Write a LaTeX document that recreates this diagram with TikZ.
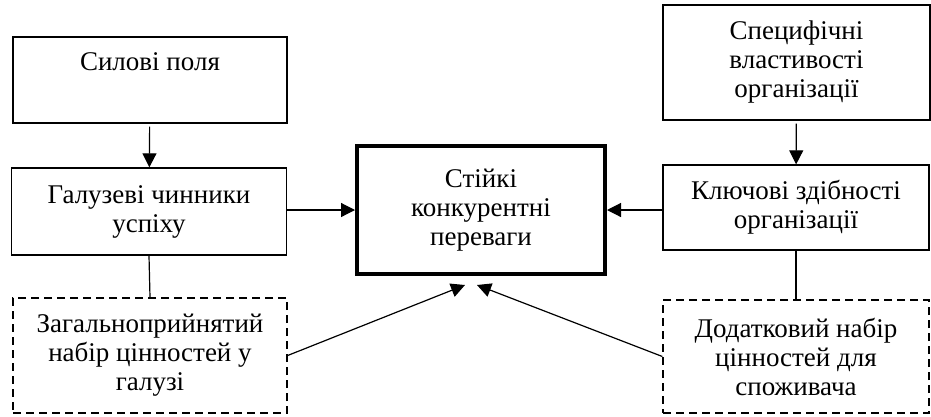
\documentclass[tikz,border=0pt]{standalone}
\usepackage{fontspec}
\setmainfont{Liberation Serif}
\usetikzlibrary{arrows.meta, calc, positioning}

\begin{document}
\begin{tikzpicture}[x=1pt, y=-1pt, >={Triangle[length=14pt, width=14pt]},
  font=\fontsize{27}{29}\selectfont,
  blok/.style={draw, line width=1.3pt, align=center, inner sep=0pt},
  dblok/.style={blok, dash pattern=on 8pt off 5pt},
  golovnyi/.style={blok, line width=4pt}]

  \useasboundingbox (0,0) rectangle (931,416);

  % left column
  \node[blok, minimum width=274pt, minimum height=86pt, inner ysep=8pt,
        text height=25pt, text depth=45pt] (pole) at (150,80) {Силові поля};
  \node[blok, minimum width=275pt, minimum height=87pt] (galuz) at (149,211.5)
        {Галузеві чинники\\ успіху};
  \node[dblok, minimum width=274pt, minimum height=115pt] (zag) at (150,355.5)
        {Загальноприйнятий\\ набір цінностей у\\ галузі};

  % centre
  \node[golovnyi, minimum width=248pt, minimum height=128pt] (stiyki) at (481,210)
        {Стійкі\\ конкурентні\\ переваги};

  % right column
  \node[blok, minimum width=267pt, minimum height=115pt] (spec) at (796.5,62.5)
        {Специфічні\\ властивості\\ організації};
  \node[blok, minimum width=266pt, minimum height=85pt] (klyuch) at (796,207.5)
        {Ключові здібності\\ організації};
  \node[dblok, minimum width=266pt, minimum height=113pt] (dodat) at (796,356.5)
        {Додатковий набір\\ цінностей для\\ споживача};

  \draw[->, line width=1.2pt, shorten <=3pt] (pole) -- (galuz);
  \draw[->, line width=1.2pt, shorten <=3pt] (spec) -- (klyuch);
  \draw[->, line width=1.2pt] (stiyki.west -| galuz.east) -- (stiyki.west);
  \draw[->, line width=1.2pt] (stiyki.east -| klyuch.west) -- (stiyki.east);
  \draw[line width=1.2pt] (galuz.south) -- (zag.north);
  \draw[line width=1.2pt] (klyuch.south) -- (dodat.north);
  \draw[->, line width=1.2pt] (zag.east) -- ($(stiyki.south)+(-16,9)$);
  \draw[->, line width=1.2pt] (dodat.west) -- ($(stiyki.south)+(-4,9)$);

\end{tikzpicture}
\end{document}
